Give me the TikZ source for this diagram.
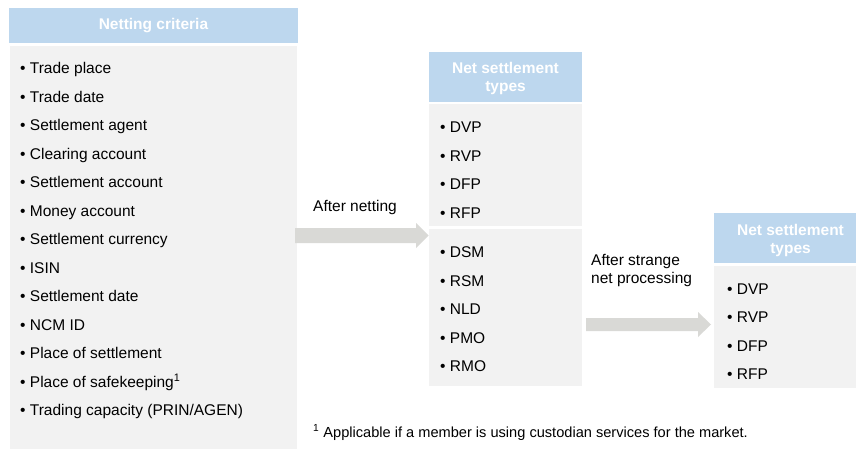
\documentclass[tikz,border=0pt]{standalone}
\usepackage{fontspec}
\setmainfont{Liberation Sans}
\definecolor{hdr}{HTML}{BDD7EE}
\definecolor{bodyg}{HTML}{F2F2F2}
\definecolor{arrg}{HTML}{D9D9D6}
\begin{document}
\begin{tikzpicture}[x=1pt,y=-1pt,
  box/.style={fill=#1,draw=none,anchor=north west,inner sep=0pt,outer sep=0pt},
  hdrtxt/.style={text=white,font=\fontsize{15.5}{18.5}\selectfont\bfseries,align=center,inner sep=0pt},
  item/.style={anchor=base west,inner sep=0pt,font=\fontsize{15.5}{18}\selectfont},
  lbl/.style={anchor=base west,inner sep=0pt,font=\fontsize{15.5}{18.5}\selectfont,align=left},
  blockarrow/.style={fill=arrg,draw=none}]
\useasboundingbox (0,0) rectangle (856,452);
% left box
\node[box=hdr,minimum width=289pt,minimum height=35pt] (lh) at (9,8) {};
\node[hdrtxt] (lht) at (153.5,25.5) {Netting criteria};
\node[box=bodyg,minimum width=287pt,minimum height=403pt] (lb) at (10,46) {};
\foreach \t [count=\i] in {Trade place,Trade date,Settlement agent,Clearing account,Settlement account,Money account,Settlement currency,ISIN,Settlement date,NCM ID,Place of settlement,Place of safekeeping\textsuperscript{1},Trading capacity (PRIN/AGEN)}
  \node[item] (li\i) at (20,{68+5.5+(\i-1)*28.5}) {\textbullet{} \t};
% middle box
\node[box=hdr,minimum width=153pt,minimum height=50pt] (mh) at (429,52) {};
\node[hdrtxt] (mht) at (505.5,78.5) {Net settlement\\types};
\node[box=bodyg,minimum width=153pt,minimum height=122pt] (mb1) at (429,104) {};
\node[box=bodyg,minimum width=153pt,minimum height=157pt] (mb2) at (429,229) {};
\foreach \t [count=\i] in {DVP,RVP,DFP,RFP}
  \node[item] (ma\i) at (440,{127+5.5+(\i-1)*28.6}) {\textbullet{} \t};
\foreach \t [count=\i] in {DSM,RSM,NLD,PMO,RMO}
  \node[item] (mc\i) at (440,{252+5.5+(\i-1)*28.5}) {\textbullet{} \t};
% right box
\node[box=hdr,minimum width=153pt,minimum height=50pt] (rh) at (714,213) {};
\node[hdrtxt] (rht) at (790.5,240.5) {Net settlement\\types};
\node[box=bodyg,minimum width=153pt,minimum height=122pt] (rb) at (714,266) {};
\foreach \t [count=\i] in {DVP,RVP,DFP,RFP}
  \node[item] (ra\i) at (727,{289+5.5+(\i-1)*28.4}) {\textbullet{} \t};
% arrows
\fill[blockarrow] (295,228) -- (416,228) -- (416,223) -- (428.5,235.5) -- (416,248) -- (416,243) -- (295,243) -- cycle;
\fill[blockarrow] (586,318) -- (698,318) -- (698,312) -- (711,324.5) -- (698,337) -- (698,331) -- (586,331) -- cycle;
\node[lbl] (an) at (313,211.5) {After netting};
\node[lbl] (as) at (591,283.5) {After strange\\net processing};
% footnote
\node[lbl,font=\fontsize{14.6}{17}\selectfont] (fn) at (313,437) {\textsuperscript{1} Applicable if a member is using custodian services for the market.};
\end{tikzpicture}
\end{document}
